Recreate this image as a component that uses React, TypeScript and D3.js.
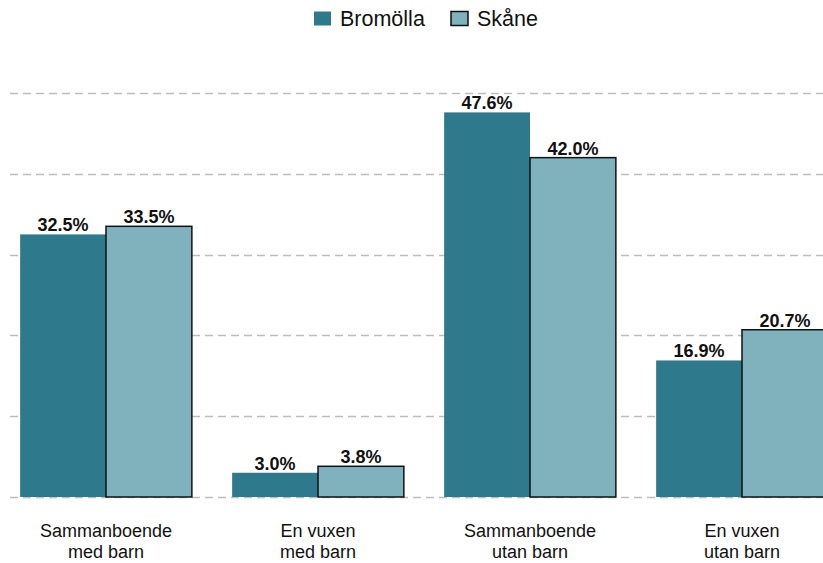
import React, { useRef, useEffect } from 'react';
import * as d3 from 'd3';

const categories = ['Sammanboende\nmed barn', 'En vuxen\nmed barn', 'Sammanboende\nutan barn', 'En vuxen\nutan barn'];
const seriesNames = ['Bromölla', 'Skåne'];
const bromolla = [32.5, 3.0, 47.6, 16.9];
const skane = [33.5, 3.8, 42.0, 20.7];
const yTicks = [0, 10, 20, 30, 40, 50];
const colors = ['#2e7a8c', '#7fb2bc'];

export default function App() {
  const ref = useRef<SVGSVGElement | null>(null);

  useEffect(() => {
    if (!ref.current) return;
    const width = 823;
    const height = 563;
    const font = 'Liberation Sans, Arial, sans-serif';
    const svg = d3.select(ref.current);
    svg.selectAll('*').remove();
    svg.attr('width', width).attr('height', height);

    const x0 = d3.scaleBand<string>().domain(categories).range([0, 848]).paddingInner(0.19).paddingOuter(0.095);
    const x1 = d3.scaleBand<string>().domain(seriesNames).range([0, x0.bandwidth()]);
    const y = d3.scaleLinear().domain([0, 50]).range([497, 93]);

    // gridlines
    svg.append('g')
      .selectAll('line')
      .data(yTicks)
      .enter().append('line')
      .attr('x1', 10).attr('x2', width)
      .attr('y1', d => Math.round(y(d)) + 0.5).attr('y2', d => Math.round(y(d)) + 0.5)
      .attr('stroke', '#bdbdbd')
      .attr('stroke-width', 1.5)
      .attr('stroke-dasharray', '8 5');

    const values = [bromolla, skane];
    const groups = svg.append('g').selectAll('g')
      .data(categories)
      .enter().append('g')
      .attr('transform', c => `translate(${x0(c)},0)`);

    seriesNames.forEach((s, si) => {
      groups.append('rect')
        .attr('x', x1(s)!)
        .attr('y', (c, i) => y(values[si][i]))
        .attr('width', x1.bandwidth())
        .attr('height', (c, i) => y(0) - y(values[si][i]))
        .attr('fill', colors[si])
        .attr('stroke', si === 1 ? '#111' : 'none')
        .attr('stroke-width', si === 1 ? 1.5 : 0);

      groups.append('text')
        .attr('x', x1(s)! + x1.bandwidth() / 2)
        .attr('y', (c, i) => y(values[si][i]) - 3)
        .attr('text-anchor', 'middle')
        .attr('font-family', font)
        .attr('font-weight', 'bold')
        .attr('font-size', 18)
        .attr('fill', '#111')
        .text((c, i) => values[si][i].toFixed(1) + '%');
    });

    // category labels
    groups.each(function (c) {
      const t = d3.select(this).append('text')
        .attr('x', x0.bandwidth() / 2)
        .attr('text-anchor', 'middle')
        .attr('font-family', font)
        .attr('font-size', 18)
        .attr('fill', '#111');
      c.split('\n').forEach((line, li) => {
        t.append('tspan').attr('x', x0.bandwidth() / 2).attr('y', 537 + li * 21).text(line);
      });
    });

    // legend
    const legend = svg.append('g');
    const legendX = [314, 451];
    seriesNames.forEach((s, si) => {
      legend.append('rect')
        .attr('x', legendX[si]).attr('y', 11.5)
        .attr('width', 17).attr('height', 14)
        .attr('fill', colors[si])
        .attr('stroke', si === 1 ? '#111' : 'none')
        .attr('stroke-width', 1.5);
      legend.append('text')
        .attr('x', legendX[si] + 26).attr('y', 26)
        .attr('font-family', font)
        .attr('font-size', 21.5)
        .attr('fill', '#111')
        .text(s);
    });
  }, []);

  return (
    <div style={{ position: 'fixed', left: 0, top: 0, width: 823, height: 563, background: '#fff' }}>
      <svg ref={ref} style={{ display: 'block' }} />
    </div>
  );
}
